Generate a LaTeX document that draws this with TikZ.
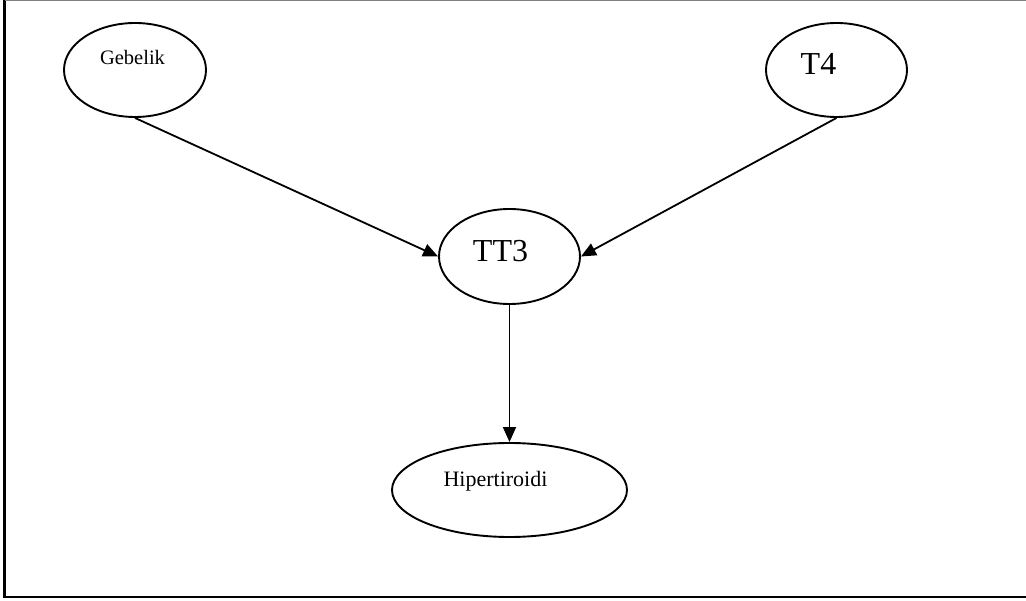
\documentclass[tikz,border=0pt]{standalone}
\usepackage{fontspec}
\setmainfont{Liberation Serif}
\usetikzlibrary{shapes.geometric,arrows.meta}
\begin{document}
\begin{tikzpicture}[x=1pt,y=-1pt,
  oval/.style={draw,line width=1.9pt,ellipse,inner sep=0pt},
  lbl/.style={inner sep=0pt,anchor=base},
  link/.style={line width=1.8pt,-{Triangle[length=15pt,width=13pt]}}]
\useasboundingbox (0,0) rectangle (1026,601);
% frame
\draw[line width=2.2pt] (4.5,0.5) -- (4.5,597) -- (1030,597);
\draw[line width=1.4pt,gray] (4.5,0.5) -- (1030,0.5);
% ellipses
\node[oval,minimum width=142pt,minimum height=94pt] (geb) at (135,70) {};
\node[oval,minimum width=141pt,minimum height=94pt] (t4) at (836.5,70) {};
\node[oval,minimum width=141pt,minimum height=95pt] (tt3) at (509.5,256.5) {};
\node[oval,minimum width=235pt,minimum height=94pt] (hip) at (509.5,490) {};
% labels
\node[lbl,font=\fontsize{20.5}{24}\selectfont] (gebt) at (132.5,65) {Gebelik};
\node[lbl,font=\fontsize{32}{38}\selectfont] (t4t) at (818.5,75) {T4};
\node[lbl,font=\fontsize{32}{38}\selectfont] (tt3t) at (500.5,262) {TT3};
\node[lbl,font=\fontsize{22}{26}\selectfont] (hipt) at (495.5,487) {Hipertiroidi};
% arrows
\draw[link] (geb.south) -- (tt3.west);
\draw[link] (t4.south) -- (tt3.east);
\draw[link] (tt3.south) -- (hip.north);
\end{tikzpicture}
\end{document}
